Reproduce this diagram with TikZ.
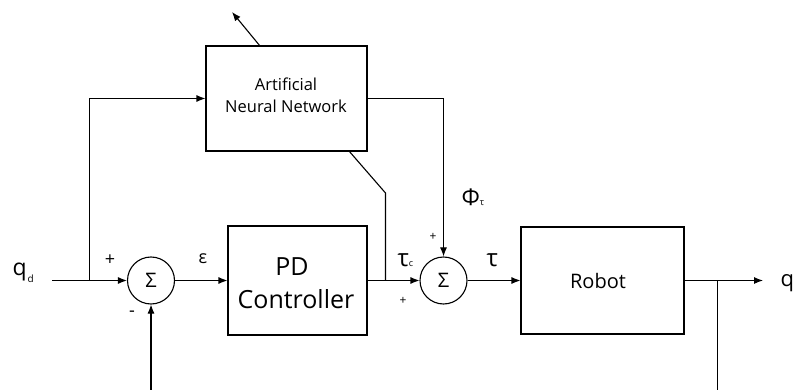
\documentclass[tikz,border=0pt]{standalone}
\usepackage{fontspec}
\setmainfont{Open Sans}
\usetikzlibrary{arrows.meta}
\newcommand{\fs}[1]{\fontsize{#1}{#1}\selectfont}
\begin{document}
\begin{tikzpicture}[x=1pt,y=-1pt,
  line width=1.1pt,
  arr/.style={-{Latex[length=9pt,width=7pt]}},
  blockbox/.style={draw, rectangle, inner sep=0pt},
  sumnode/.style={draw, circle, minimum size=47pt, inner sep=0pt, font=\fs{20}},
  lbl/.style={inner sep=0pt}]
\useasboundingbox (0,0) rectangle (798,390);

% blocks
\node[blockbox, minimum width=161pt, minimum height=105pt] (ann) at (286.5,98.5) {};
\node[blockbox, minimum width=139pt, minimum height=109pt] (pd) at (297.5,280.5) {};
\node[blockbox, minimum width=163pt, minimum height=107pt] (robot) at (602.5,280.5) {};
\node[sumnode] (s1) at (151,280.5) {Σ};
\node[sumnode] (s2) at (443.5,280.5) {Σ};

% block texts
\node[lbl, anchor=base, font=\fs{16.5}] (annt1) at (286,91) {Artificial};
\node[lbl, anchor=base, font=\fs{16.5}] (annt2) at (286,113) {Neural Network};
\node[lbl, anchor=base, font=\fs{25}] (pdt1) at (292,276) {PD};
\node[lbl, anchor=base, font=\fs{25}] (pdt2) at (296,308) {Controller};
\node[lbl, anchor=base, font=\fs{20}] (robt) at (598,288) {Robot};

% coordinates
\coordinate (qin) at (52,280.5);
\coordinate (br1) at (89.5,280.5);
\coordinate (fb1) at (151,390);
\coordinate (annb) at (349,151);
\coordinate (knee) at (385.5,193);
\coordinate (join) at (385.5,280.5);
\coordinate (annr) at (443.5,98.5);
\coordinate (annt) at (260,46);
\coordinate (upout) at (232,12);
\coordinate (qout) at (763,280.5);
\coordinate (br2) at (717.5,280.5);
\coordinate (fb2) at (717.5,390);

% connectors
\draw[arr] (qin) -- (s1.west);
\draw[arr] (br1) |- (ann.west);
\draw[arr] (s1.east) -- (pd.west);
\draw[arr] (pd.east) -- (s2.west);
\draw (annb) -- (knee) -- (join);
\draw[arr] (ann.east) -- (annr) -- (s2.north);
\draw[arr] (s2.east) -- (robot.west);
\draw[arr] (robot.east) -- (qout);
\draw (br2) -- (fb2);
\draw[arr] (fb1) -- (s1.south);
\draw[arr] (annt) -- (upout);

% signal labels
\node[lbl, anchor=base west] (qd) at (12,276) {\fs{23}q\hspace{1pt}\raisebox{-7pt}{\fs{10}d}};
\node[lbl, anchor=base, font=\fs{18}] (eps) at (203,263) {ε};
\node[lbl, anchor=base west] (tauc) at (397,266) {\fs{24}τ\fs{9}c};
\node[lbl, anchor=base west] (phi) at (461,206) {\fs{23}Φ\fs{9}τ};
\node[lbl, anchor=base west] (tau) at (486,266) {\fs{24}τ};
\node[lbl, anchor=base west] (q) at (780,287) {\fs{22}q};
\node[lbl, font=\fs{18}] (p1) at (110,260) {+};
\node[lbl, font=\fs{18}] (m1) at (132,314) {-};
\node[lbl, font=\fs{12}] (p2) at (433,237) {+};
\node[lbl, font=\fs{12}] (p3) at (403,301) {+};
\end{tikzpicture}
\end{document}
